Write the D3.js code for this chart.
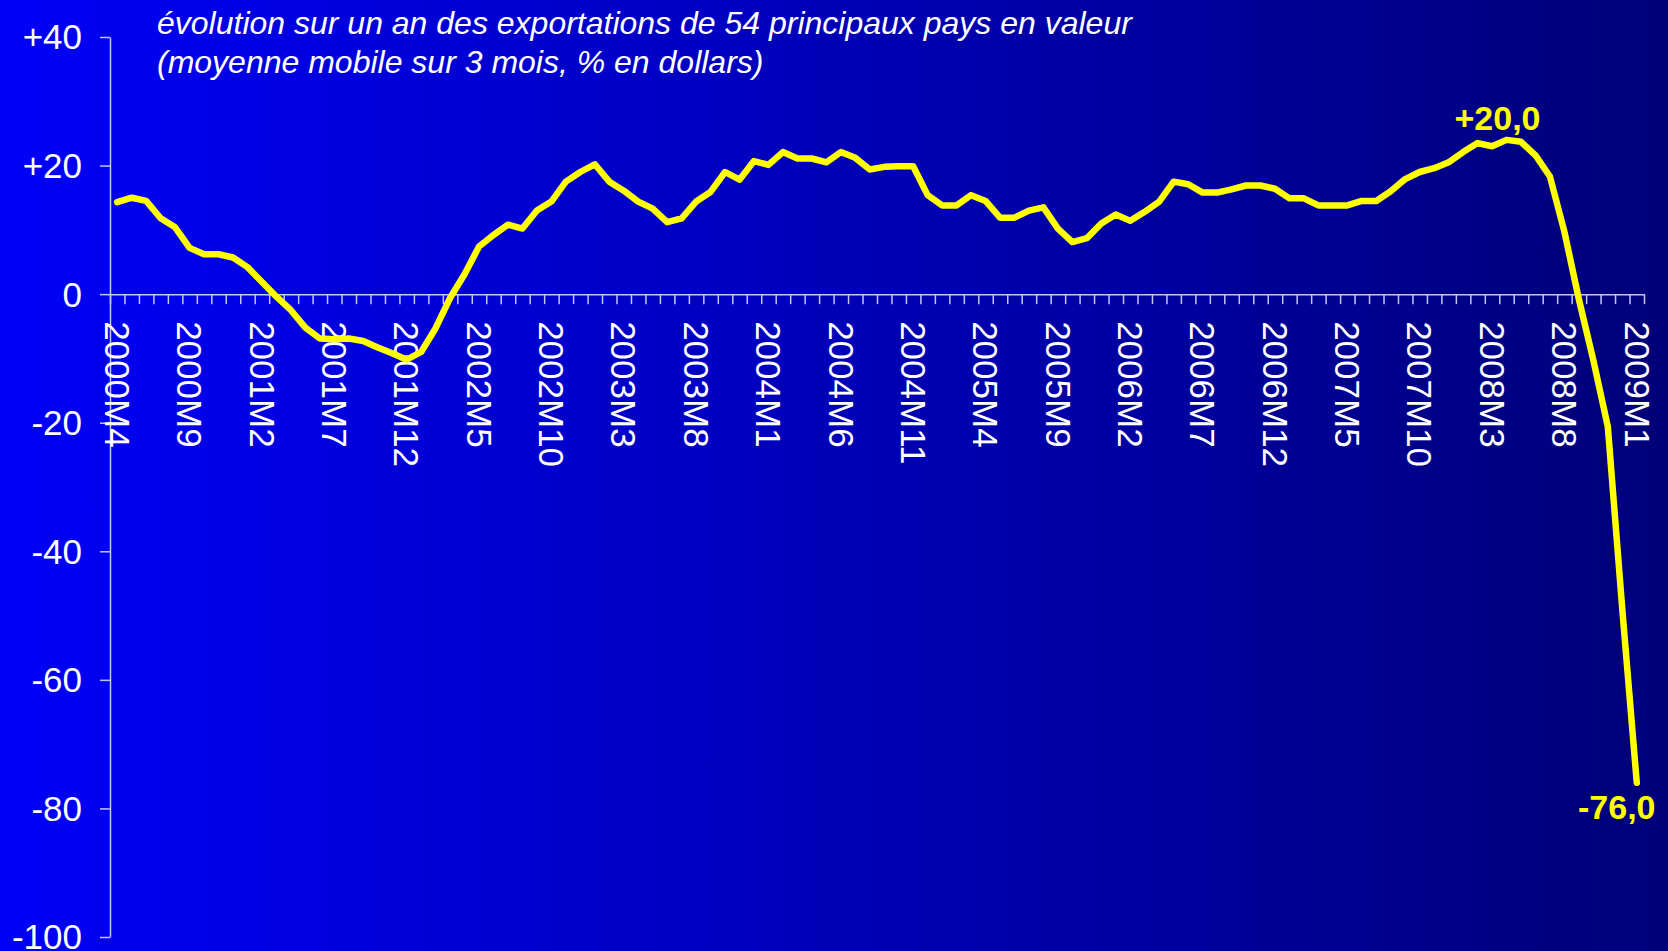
<!DOCTYPE html>
<html>
<head>
<meta charset="utf-8">
<script src="https://cdn.jsdelivr.net/npm/d3@7"></script>
<style>
  html, body { margin: 0; padding: 0; background: #00007a; }
  svg { display: block; font-family: Arial, "Liberation Sans", sans-serif; }
  .axis path, .axis line { stroke: #c4c4ff; stroke-width: 1.5; }
  .axis text { fill: #fff; font-size: 35px; }
</style>
</head>
<body>
<svg id="chart" width="1668" height="951"></svg>
<script>
/* ── Data ──────────────────────────────────────────────────────────────── */
const START_YEAR = 2000, START_MONTH = 4, N_MONTHS = 106;
const MONTHS = d3.range(N_MONTHS).map(i => {
  const m = START_MONTH - 1 + i;
  return `${START_YEAR + Math.floor(m / 12)}M${(m % 12) + 1}`;
});

// évolution sur un an, moyenne mobile 3 mois (%)
const VALUES = [
  14.3, 15.0, 14.5, 11.8, 10.4, 7.2, 6.2, 6.2, 5.7, 4.2,
  1.9, -0.4, -2.5, -5.2, -6.9, -7.0, -6.9, -7.3, -8.3, -9.2,
  -10.2, -9.0, -5.3, -0.6, 3.1, 7.4, 9.2, 10.8, 10.2, 13.0,
  14.4, 17.5, 19.0, 20.2, 17.5, 16.1, 14.4, 13.3, 11.2, 11.8,
  14.4, 15.9, 19.0, 17.8, 20.7, 20.1, 22.1, 21.1, 21.1, 20.5,
  22.1, 21.2, 19.4, 19.8, 19.9, 19.9, 15.4, 13.8, 13.8, 15.4,
  14.5, 11.9, 11.9, 13.0, 13.5, 10.2, 8.1, 8.7, 11.0, 12.4,
  11.4, 12.8, 14.4, 17.5, 17.1, 15.8, 15.8, 16.3, 16.9, 16.9,
  16.4, 14.9, 14.9, 13.8, 13.8, 13.8, 14.5, 14.5, 16.0, 17.9,
  19.0, 19.6, 20.5, 22.1, 23.5, 23.0, 24.0, 23.7, 21.6, 18.3,
  9.7, -0.8, -10.3, -20.6, -49.0, -76.0
];

const X_LABELS = ['2000M4','2000M9','2001M2','2001M7','2001M12','2002M5','2002M10',
  '2003M3','2003M8','2004M1','2004M6','2004M11','2005M4','2005M9','2006M2','2006M7',
  '2006M12','2007M5','2007M10','2008M3','2008M8','2009M1'];
const Y_TICKS = [-100, -80, -60, -40, -20, 0, 20, 40];
const TITLE = ['évolution sur un an des exportations de 54 principaux pays en valeur',
               '(moyenne mobile sur 3 mois, % en dollars)'];
const ANNOTS = [
  { month: '2008M4', text: '+20,0', dx: -9, dy: -10 },
  { month: '2009M1', text: '-76,0', dx: -20, dy: 36 },
];

/* ── Layout ────────────────────────────────────────────────────────────── */
const W = 1668, H = 951;
const X0 = 110, X1 = 1644, Y_TOP = 37, Y_BOT = 937;

const svg = d3.select('#chart');

const defs = svg.append('defs');
const grad = defs.append('linearGradient').attr('id', 'bg')
  .attr('x1', '0%').attr('x2', '100%').attr('y1', '0%').attr('y2', '0%');
grad.append('stop').attr('offset', '0%').attr('stop-color', '#0000f8');
grad.append('stop').attr('offset', '100%').attr('stop-color', '#000078');
svg.append('rect').attr('width', W).attr('height', H).attr('fill', 'url(#bg)');

const x = d3.scaleBand().domain(MONTHS).range([X0, X1]).padding(0);
const xc = m => x(m) + x.bandwidth() / 2;
const xIdx = d3.scaleLinear().domain([0, N_MONTHS]).range([X0, X1]);
const y = d3.scaleLinear().domain([-100, 40]).range([Y_BOT, Y_TOP]);

/* ── Axes ──────────────────────────────────────────────────────────────── */
svg.append('g').attr('class', 'axis')
  .attr('transform', `translate(${X0},0)`)
  .call(d3.axisLeft(y).tickValues(Y_TICKS).tickSize(10).tickSizeOuter(0).tickPadding(18)
    .tickFormat(d => d > 0 ? `+${d}` : `${d}`))
  .call(g => g.selectAll('text').attr('dy', '0.34em'));

svg.append('g').attr('class', 'axis')
  .attr('transform', `translate(0,${y(0)})`)
  .call(d3.axisBottom(xIdx).tickValues(d3.range(N_MONTHS + 1)).tickSize(10).tickSizeOuter(0).tickFormat(''));

svg.append('g').selectAll('text').data(X_LABELS).join('text')
  .attr('transform', d => `translate(${xc(d)},${y(0) + 27}) rotate(90)`)
  .attr('dy', '0.35em')
  .attr('fill', '#fff').attr('font-size', 35)
  .text(d => d);

/* ── Line ──────────────────────────────────────────────────────────────── */
const line = d3.line().x((d, i) => xc(MONTHS[i])).y(d => y(d));
svg.append('path').datum(VALUES)
  .attr('d', line)
  .attr('fill', 'none').attr('stroke', '#ffff00')
  .attr('stroke-width', 6.5).attr('stroke-linejoin', 'round').attr('stroke-linecap', 'round');

/* ── Annotations ───────────────────────────────────────────────────────── */
svg.append('g').selectAll('text').data(ANNOTS).join('text')
  .attr('x', d => xc(d.month) + d.dx)
  .attr('y', d => y(VALUES[MONTHS.indexOf(d.month)]) + d.dy)
  .attr('text-anchor', 'middle')
  .attr('fill', '#ffff00').attr('font-weight', 'bold').attr('font-size', 34)
  .text(d => d.text);

/* ── Title ─────────────────────────────────────────────────────────────── */
svg.append('g').selectAll('text').data(TITLE).join('text')
  .attr('x', 157).attr('y', (d, i) => 34 + i * 39)
  .attr('fill', '#fff').attr('font-style', 'italic').attr('font-size', 32)
  .text(d => d);
</script>
</body>
</html>
